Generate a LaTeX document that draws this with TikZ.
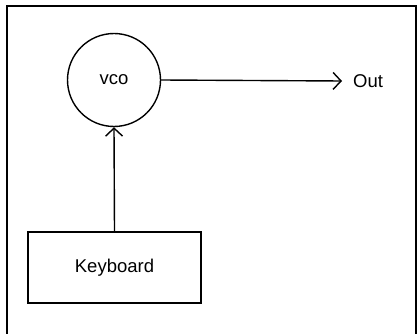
\documentclass[tikz,border=0pt]{standalone}
\usepackage{fontspec}
\setmainfont{Liberation Sans}
\usepackage{tikz}
\usetikzlibrary{arrows.meta, positioning}

\begin{document}
\begin{tikzpicture}[
    x=1pt, y=-1pt,
    every node/.style={font=\fontsize{18.5}{22}\selectfont},
    osc/.style={circle, draw, line width=1.4pt, minimum size=93pt, inner sep=0pt},
    block/.style={rectangle, draw, line width=1.4pt, minimum width=173pt, minimum height=71pt},
    label/.style={inner sep=0pt, inner xsep=11pt},
    frame/.style={line width=2.2pt},
    arrow/.style={-{Straight Barb[length=8pt, width=17pt, line width=1.4pt]}, line width=1.4pt}
]
    \useasboundingbox (0,0) rectangle (417,334);
    \draw [frame] (7,334) -- (7,6) -- (416,6) -- (416,334);

    % Nodes
    \node (vco) [osc] at (114,80) {vco};
    \node (out) [label, anchor=west] at (342,81) {Out};
    \node (keys) [block] at (114.5,267.5) {Keyboard};

    % Connections
    \draw [arrow] (vco.east) -- (out.west);
    \draw [arrow] (keys.north) -- (vco.south);
\end{tikzpicture}
\end{document}
